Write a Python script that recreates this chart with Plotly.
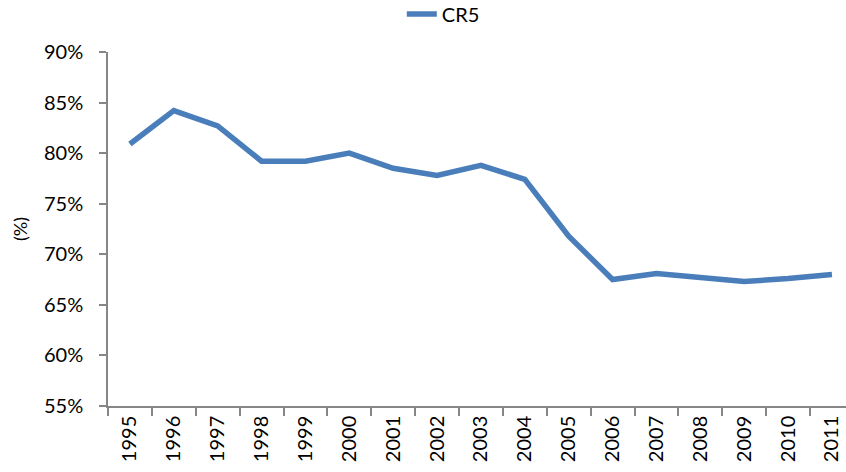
import plotly.graph_objects as go

years = [str(y) for y in range(1995, 2012)]
cr5 = [80.9, 84.2, 82.7, 79.2, 79.2, 80.0, 78.5, 77.8, 78.8, 77.4, 71.8, 67.5, 68.1, 67.7, 67.3, 67.6, 68.0]
y_ticks = [55, 60, 65, 70, 75, 80, 85, 90]
y_tick_labels = [f"{v}%" for v in y_ticks]

FONT = "Lato"
AXIS_COLOR = "#868686"

fig = go.Figure()
fig.add_trace(go.Scatter(
    x=years, y=cr5, mode="lines", name="CR5",
    line=dict(color="#4A7EBB", width=5.5),
))

fig.update_layout(
    width=846, height=472,
    margin=dict(l=108, r=0, t=52, b=66, autoexpand=False),
    paper_bgcolor="white", plot_bgcolor="white",
    font=dict(family=FONT, color="black"),
    showlegend=True,
    legend=dict(
        orientation="h", x=0.524, xanchor="center", y=1.107, yanchor="middle",
        xref="container", yref="paper",
        font=dict(size=20, family=FONT), itemwidth=30,
    ),
)

fig.update_xaxes(
    type="category", range=[-0.5, 16.32], automargin=False,
    showline=True, linecolor=AXIS_COLOR, linewidth=1.5,
    ticks="outside", ticklen=8, tickcolor=AXIS_COLOR, tickwidth=1.5,
    tickson="boundaries", tickangle=-90,
    tickfont=dict(size=20, family=FONT),
    showgrid=False, zeroline=False,
)
fig.update_yaxes(
    range=[55, 90], tickvals=y_ticks, ticktext=y_tick_labels, automargin=False,
    showline=True, linecolor=AXIS_COLOR, linewidth=1.5,
    ticks="outside", ticklen=7, tickcolor=AXIS_COLOR, tickwidth=1.5,
    tickfont=dict(size=20, family=FONT),
    ticklabelstandoff=12,
    showgrid=False, zeroline=False,
    title=dict(text="(%)", font=dict(size=18, family=FONT), standoff=12),
)

fig.write_html(
    "out.html",
    config={"displayModeBar": False},
    post_script="document.body.style.margin='0';document.body.style.overflow='hidden';",
)
